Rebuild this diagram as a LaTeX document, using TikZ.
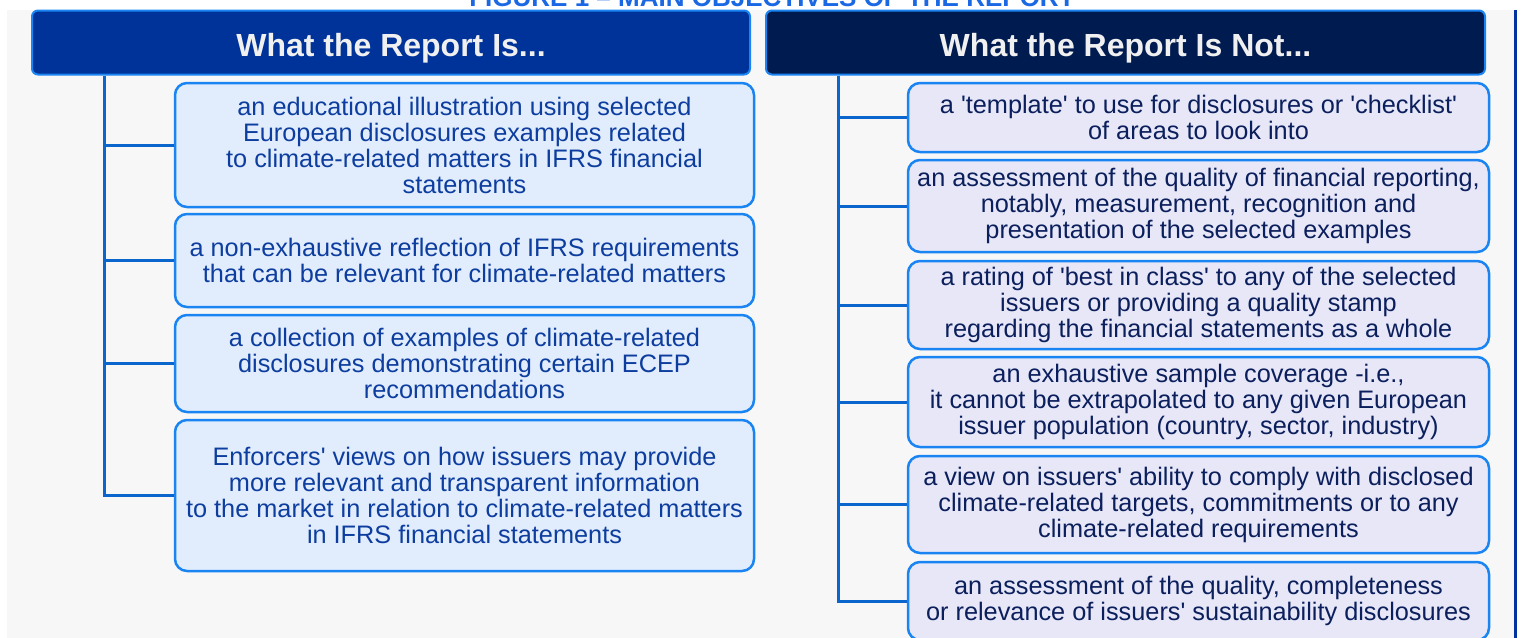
\documentclass[tikz,border=0pt]{standalone}
\usepackage{fontspec}
\setmainfont{Liberation Sans}
\usetikzlibrary{calc}
\definecolor{bggray}{HTML}{F7F7F7}
\definecolor{titleblue}{HTML}{1A68E4}
\definecolor{hdrleft}{HTML}{003399}
\definecolor{hdrright}{HTML}{001B50}
\definecolor{edgeblue}{HTML}{1A85F2}
\definecolor{connblue}{HTML}{0A66CC}
\definecolor{lfill}{HTML}{E1EDFD}
\definecolor{ltext}{HTML}{0D3D9E}
\definecolor{rfill}{HTML}{E7E7F8}
\definecolor{rtext}{HTML}{0B1F5C}
\definecolor{sideline}{HTML}{0033A0}
\newcommand{\sq}{\textquotesingle}
\tikzset{
  hdrbox/.style={draw=edgeblue, line width=2pt, rounded corners=6pt, minimum height=64pt,
    text=white!94!black, font=\fontsize{32}{36}\selectfont\bfseries, inner sep=0pt},
  hdrtext/.style={text=white!94!black, font=\fontsize{32}{36}\selectfont\bfseries, anchor=base},
  itembox/.style={draw=edgeblue, line width=2.5pt, rounded corners=12pt, align=center,
    inner sep=0pt, font=\fontsize{25.3}{26}\selectfont},
  lbox/.style={itembox, fill=lfill, text=ltext, minimum width=579pt},
  rbox/.style={itembox, fill=rfill, text=rtext, minimum width=581pt},
  conn/.style={draw=connblue, line width=3pt}
}
\begin{document}
\begin{tikzpicture}[x=1pt,y=-1pt]
\useasboundingbox (0,0) rectangle (1522,637);
\clip (0,0) rectangle (1522,637);
\fill[white] (0,0) rectangle (1522,637);
\fill[bggray] (7,10) rectangle (1514,640);
\draw[sideline, line width=2.5pt] (1515.5,10) -- (1515.5,640);
\node[anchor=base, text=titleblue, font=\fontsize{26}{28}\selectfont\bfseries] (title) at (772,6) {FIGURE 1 – MAIN OBJECTIVES OF THE REPORT};
% headers
\node[hdrbox, fill=hdrleft, minimum width=718pt] (hl) at (391,42.5) {};
\node[hdrtext] (hlt) at (391,56) {What the Report Is...};
\node[hdrbox, fill=hdrright, minimum width=719pt] (hr) at (1125.5,42.5) {};
\node[hdrtext] (hrt) at (1125.5,56) {What the Report Is Not...};
% left items
\node[lbox, minimum height=124pt] (l1) at (464.5,145) {an educational illustration using selected\\European disclosures examples related\\to climate-related matters in IFRS financial\\statements};
\node[lbox, minimum height=93pt] (l2) at (464.5,260.5) {a non-exhaustive reflection of IFRS requirements\\that can be relevant for climate-related matters};
\node[lbox, minimum height=97pt] (l3) at (464.5,363.5) {a collection of examples of climate-related\\disclosures demonstrating certain ECEP\\recommendations};
\node[lbox, minimum height=151pt] (l4) at (464.5,495.5) {Enforcers\sq{} views on how issuers may provide\\more relevant and transparent information\\to the market in relation to climate-related matters\\in IFRS financial statements};
% right items
\node[rbox, minimum height=69pt] (r1) at (1198.5,117.5) {a \sq{}template\sq{} to use for disclosures or \sq{}checklist\sq{}\\of areas to look into};
\node[rbox, minimum height=92pt] (r2) at (1198.5,206) {an assessment of the quality of financial reporting,\\notably, measurement, recognition and\\presentation of the selected examples};
\node[rbox, minimum height=88pt] (r3) at (1198.5,305) {a rating of \sq{}best in class\sq{} to any of the selected\\issuers or providing a quality stamp\\regarding the financial statements as a whole};
\node[rbox, minimum height=90pt] (r4) at (1198.5,402) {an exhaustive sample coverage -i.e.,\\it cannot be extrapolated to any given European\\issuer population (country, sector, industry)};
\node[rbox, minimum height=97pt] (r5) at (1198.5,504.5) {a view on issuers\sq{} ability to comply with disclosed\\climate-related targets, commitments or to any\\climate-related requirements};
\node[rbox, minimum height=78pt] (r6) at (1198.5,601) {an assessment of the quality, completeness\\or relevance of issuers\sq{} sustainability disclosures};
% trees
\coordinate (tl) at (104,0);
\coordinate (tr) at (838,0);
\draw[conn] (hl.south -| tl) |- (l4.west);
\foreach \n in {l1,l2,l3}{\draw[conn] (\n.west -| tl) -- (\n.west);}
\draw[conn] (hr.south -| tr) |- (r6.west);
\foreach \n in {r1,r2,r3,r4,r5}{\draw[conn] (\n.west -| tr) -- (\n.west);}
\end{tikzpicture}
\end{document}
